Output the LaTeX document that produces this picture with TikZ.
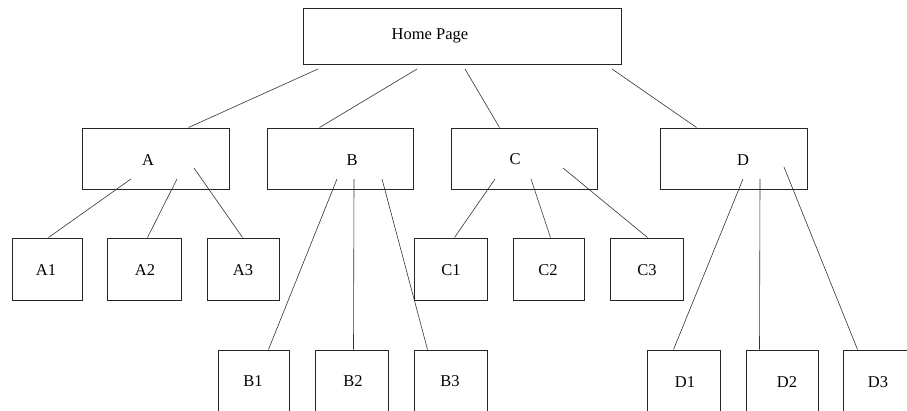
\documentclass[tikz,border=0pt]{standalone}
\usepackage{fontspec}
\setmainfont{Liberation Serif}
\begin{document}
\begin{tikzpicture}[x=1pt,y=-1pt,
  box/.style={draw=black!85,line width=1pt,inner sep=0pt,minimum width=#1},
  box/.default=72,
  lbl/.style={inner sep=0pt,font=\fontsize{16.5}{19}\selectfont},
  conn/.style={draw=black!80,line width=0.6pt}]
\useasboundingbox (0,0) rectangle (907,410);
\clip (0,0) rectangle (907,410);
% boxes
\node[box=318,minimum height=56] (hp) at (462,36) {};
\node[box=147,minimum height=61] (a) at (155.5,158.5) {};
\node[box=146,minimum height=61] (b) at (340,158.5) {};
\node[box=146,minimum height=61] (c) at (524,158.5) {};
\node[box=147,minimum height=61] (d) at (733.5,158.5) {};
\node[box=70,minimum height=62] (a1) at (47,269) {};
\node[box=74,minimum height=62] (a2) at (144,269) {};
\node[box=72,minimum height=62] (a3) at (243,269) {};
\node[box=73,minimum height=62] (c1) at (450.5,269) {};
\node[box=71,minimum height=62] (c2) at (548.5,269) {};
\node[box=73,minimum height=62] (c3) at (646.5,269) {};
\node[box=71,minimum height=62] (b1) at (253.5,381) {};
\node[box=73,minimum height=62] (b2) at (351.5,381) {};
\node[box=73,minimum height=62] (b3) at (450.5,381) {};
\node[box=73,minimum height=62] (d1) at (683.5,381) {};
\node[box=72,minimum height=62] (d2) at (782,381) {};
\node[box=73,minimum height=62] (d3) at (879.5,381) {};
% labels
\node[lbl] (hpt) at (430,36) {Home Page};
\node[lbl] (at) at (148,160) {A};
\node[lbl] (bt) at (352,160) {B};
\node[lbl] (ct) at (515,159) {C};
\node[lbl] (dt) at (743,160) {D};
\node[lbl] (a1t) at (46,270) {A1};
\node[lbl] (a2t) at (145,270) {A2};
\node[lbl] (a3t) at (243,270) {A3};
\node[lbl] (c1t) at (451,270) {C1};
\node[lbl] (c2t) at (548,270) {C2};
\node[lbl] (c3t) at (647,270) {C3};
\node[lbl] (b1t) at (253,381) {B1};
\node[lbl] (b2t) at (353,381) {B2};
\node[lbl] (b3t) at (450,381) {B3};
\node[lbl] (d1t) at (685,382) {D1};
\node[lbl] (d2t) at (787,382) {D2};
\node[lbl] (d3t) at (878,382) {D3};
% connector start points
\coordinate (s-a) at (318,69);
\coordinate (s-b) at (417,69);
\coordinate (s-c) at (465,69);
\coordinate (s-d) at (612,69);
\coordinate (s-a1) at (131,179);
\coordinate (s-a2) at (177,179);
\coordinate (s-a3) at (194,168);
\coordinate (s-b1) at (337,179);
\coordinate (s-b2) at (354,179);
\coordinate (s-b3) at (382,179);
\coordinate (s-c1) at (495,179);
\coordinate (s-c2) at (531,179);
\coordinate (s-c3) at (563,168);
\coordinate (s-d1) at (743,179);
\coordinate (s-d2) at (760,179);
\coordinate (s-d3) at (784,167);
% connectors
\draw[conn] (s-a) -- ([xshift=107pt]a.north west);
\draw[conn] (s-b) -- ([xshift=53pt]b.north west);
\draw[conn] (s-c) -- ([xshift=49pt]c.north west);
\draw[conn] (s-d) -- ([xshift=37pt]d.north west);
\draw[conn] (s-a1) -- ([xshift=37pt]a1.north west);
\draw[conn] (s-a2) -- ([xshift=41pt]a2.north west);
\draw[conn] (s-a3) -- ([xshift=36pt]a3.north west);
\draw[conn] (s-b1) -- ([xshift=51pt]b1.north west);
\draw[conn] (s-b2) -- ([xshift=39pt]b2.north west);
\draw[conn] (s-b3) -- ([xshift=14pt]b3.north west);
\draw[conn] (s-c1) -- ([xshift=41pt]c1.north west);
\draw[conn] (s-c2) -- ([xshift=38pt]c2.north west);
\draw[conn] (s-c3) -- ([xshift=38pt]c3.north west);
\draw[conn] (s-d1) -- ([xshift=27pt]d1.north west);
\draw[conn] (s-d2) -- ([xshift=14pt]d2.north west);
\draw[conn] (s-d3) -- ([xshift=15pt]d3.north west);
\end{tikzpicture}
\end{document}
